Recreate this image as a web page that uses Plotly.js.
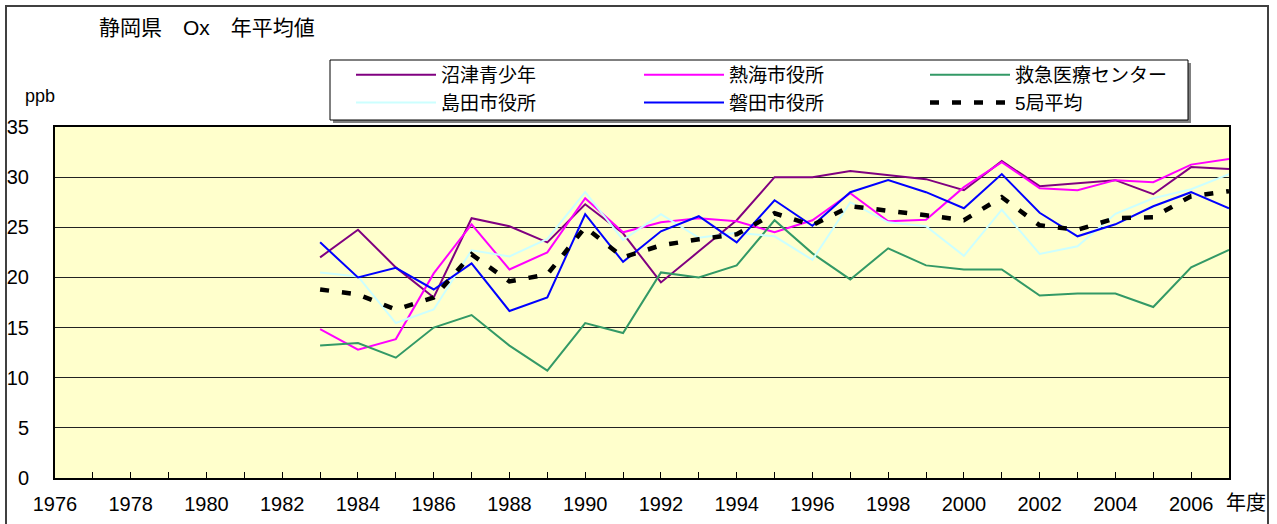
<!DOCTYPE html>
<html>
<head>
<meta charset="utf-8">
<script src="https://cdn.plot.ly/plotly-3.0.1.min.js"></script>
<style>
html,body{margin:0;padding:0;background:#fff;}
#chart{width:1277px;height:524px;}
</style>
</head>
<body>
<div id="chart"></div>
<script>
const years = [1983,1984,1985,1986,1987,1988,1989,1990,1991,1992,1993,1994,1995,1996,1997,1998,1999,2000,2001,2002,2003,2004,2005,2006,2007];
const numazu  = [22.0,24.75,21.0,18.0,25.9,25.1,23.5,27.3,24.4,19.5,22.6,25.7,30.0,30.0,30.6,30.2,29.8,28.7,31.6,29.1,29.4,29.7,28.3,31.0,30.8];
const atami   = [14.85,12.8,13.85,20.4,25.3,20.8,22.5,27.9,24.5,25.5,25.9,25.6,24.5,25.7,28.4,25.6,25.75,29.0,31.5,28.9,28.7,29.7,29.5,31.25,31.8];
const kyukyu  = [13.2,13.45,12.0,15.0,16.25,13.2,10.7,15.45,14.45,20.5,20.0,21.2,25.7,22.4,19.8,22.9,21.2,20.8,20.8,18.2,18.4,18.4,17.05,21.0,22.75];
const shimada = [20.5,20.1,15.45,16.8,22.7,22.1,23.85,28.5,23.75,26.3,23.95,24.45,24.1,21.75,27.5,25.5,25.1,22.15,26.75,22.35,23.1,26.35,27.9,28.8,30.3];
const iwata   = [23.5,20.0,20.95,18.8,21.4,16.65,18.0,26.3,21.55,24.6,26.1,23.5,27.7,25.15,28.5,29.7,28.5,26.9,30.3,26.45,24.1,25.3,27.1,28.5,26.9];
const avg5    = [18.8,18.3,16.8,18.0,22.3,19.6,20.3,25.0,22.0,23.2,23.8,24.3,26.4,25.2,27.1,26.7,26.2,25.7,28.0,25.2,24.75,25.9,26.0,28.1,28.6];

const seriesNames = ['沼津青少年','熱海市役所','救急医療センター','島田市役所','磐田市役所','5局平均'];
const tickYears = [1976,1977,1978,1979,1980,1981,1982,1983,1984,1985,1986,1987,1988,1989,1990,1991,1992,1993,1994,1995,1996,1997,1998,1999,2000,2001,2002,2003,2004,2005,2006,2007];
const tickLabels = tickYears.map(y => (y % 2 === 0 && y <= 2006) ? String(y) : '');

const FONT = 'Liberation Sans, Arial, "Noto Sans CJK JP", sans-serif';

function tr(i, y, color, width, legendId, dash) {
  return {x: years, y: y, name: seriesNames[i], type: 'scatter', mode: 'lines',
          legend: legendId, legendgroup: 'g' + i,
          line: {color: color, width: width, dash: dash || 'solid'}};
}
const data = [
  tr(0, numazu, '#800080', 2, 'legend'),
  tr(1, atami, '#FF00FF', 2, 'legend2'),
  tr(2, kyukyu, '#339966', 2, 'legend3'),
  tr(3, shimada, '#CCFFFF', 2, 'legend'),
  tr(4, iwata, '#0000FF', 2, 'legend2'),
  tr(5, avg5, '#000000', 4.5, 'legend3', '9px,13px')
];

const L = 55, R = 1229, T = 127, B = 478;
const W = R - L, H = B - T;
const px = v => (v - L) / W;
const py = v => (B - v) / H;

function legendAt(xPix) {
  return {orientation: 'v', x: px(xPix), xanchor: 'left', y: py(56), yanchor: 'top',
          xref: 'paper', yref: 'paper', bgcolor: 'rgba(0,0,0,0)', borderwidth: 0,
          itemwidth: 80, tracegroupgap: 3, traceorder: 'normal',
          font: {family: FONT, size: 19, color: '#000'}};
}

const layout = {
  width: 1277, height: 524,
  margin: {l: L, r: 1277 - R, t: T, b: 524 - B, pad: 0},
  paper_bgcolor: '#FFFFFF',
  plot_bgcolor: '#FFFFCC',
  font: {family: FONT, color: '#000', size: 20},
  title: {text: '静岡県　Ox　年平均値', font: {family: FONT, size: 21, color: '#000'},
          xref: 'paper', x: px(99), xanchor: 'left', yref: 'container', y: 1 - 28/524, yanchor: 'middle'},
  xaxis: {range: [1976, 2007], tickmode: 'array', tickvals: tickYears, ticktext: tickLabels,
          ticks: 'inside', ticklen: 6, tickwidth: 1, tickcolor: '#000',
          showgrid: false, zeroline: false, showline: true, mirror: true, linecolor: '#000', linewidth: 2,
          tickfont: {family: FONT, size: 20, color: '#000'}, ticklabelstandoff: 7, fixedrange: true},
  yaxis: {range: [0, 35], dtick: 5, tick0: 0, ticks: '', showgrid: true, gridcolor: '#222', gridwidth: 1,
          zeroline: false, showline: true, mirror: true, linecolor: '#000', linewidth: 2,
          tickfont: {family: FONT, size: 20, color: '#000'}, ticklabelstandoff: 20, fixedrange: true},
  showlegend: true,
  legend: legendAt(351),
  legend2: legendAt(639),
  legend3: legendAt(925),
  shapes: [
    {type: 'rect', xref: 'paper', yref: 'paper', x0: px(6), x1: px(1268), y0: py(540), y1: py(6),
     line: {color: '#404040', width: 2}, fillcolor: 'rgba(0,0,0,0)', layer: 'below'},
    {type: 'rect', xref: 'paper', yref: 'paper', x0: px(333), x1: px(1191), y0: py(123), y1: py(63),
     line: {width: 0}, fillcolor: '#808080', layer: 'above'},
    {type: 'rect', xref: 'paper', yref: 'paper', x0: px(330), x1: px(1188), y0: py(120), y1: py(60),
     line: {color: '#000', width: 1}, fillcolor: '#FFFFFF', layer: 'above'}
  ],
  annotations: [
    {text: 'ppb', xref: 'paper', yref: 'paper', x: px(23), y: py(96), xanchor: 'left', yanchor: 'middle',
     showarrow: false, font: {family: FONT, size: 18, color: '#000'}},
    {text: '年度', xref: 'paper', yref: 'paper', x: px(1224), y: py(503), xanchor: 'left', yanchor: 'middle',
     showarrow: false, font: {family: FONT, size: 20, color: '#000'}}
  ]
};

Plotly.newPlot('chart', data, layout, {displayModeBar: false, staticPlot: true});
</script>
</body>
</html>
